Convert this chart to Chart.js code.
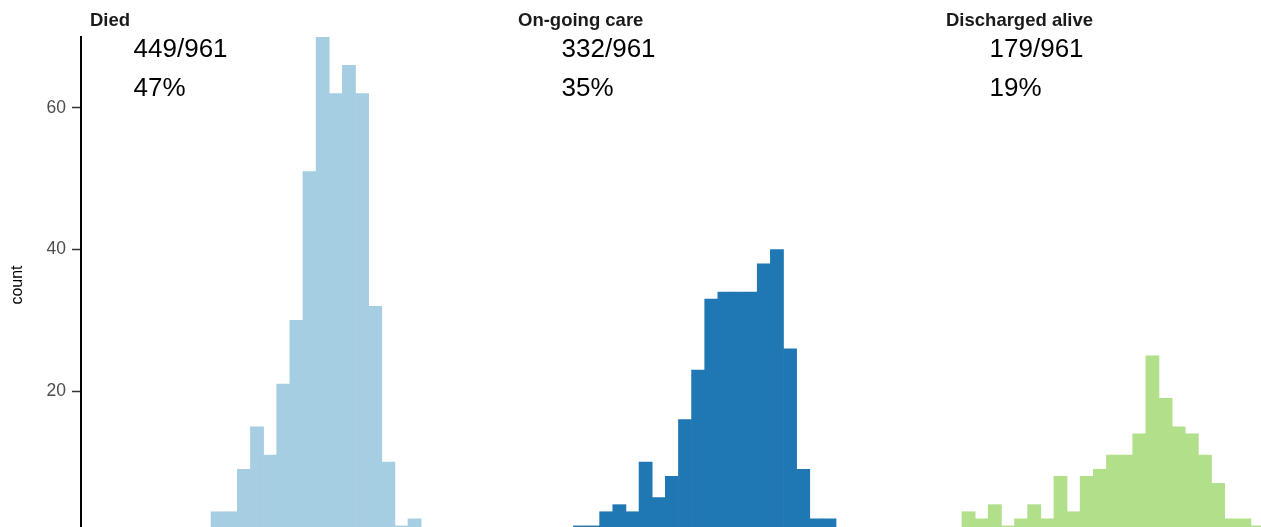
<!DOCTYPE html>
<html>
<head>
<meta charset="utf-8">
<script src="https://cdn.jsdelivr.net/npm/chart.js@4.4.1/dist/chart.umd.min.js"></script>
<style>
  html, body { margin: 0; padding: 0; width: 1261px; height: 527px; overflow: hidden; background: #fff; }
  .panel { position: absolute; top: 0; height: 533px; }
</style>
</head>
<body>
<div class="panel" style="left:0;width:501px"><canvas id="died"></canvas></div>
<div class="panel" style="left:509px;width:420px"><canvas id="ongoing"></canvas></div>
<div class="panel" style="left:937px;width:420px"><canvas id="discharged"></canvas></div>
<script>
// histogram counts, one bar per bin (bins share one grid across the facets)
const diedCounts = [3, 3, 9, 15, 11, 21, 30, 51, 70, 62, 66, 62, 32, 10, 1, 2];
const ongoingCounts = [1, 1, 3, 4, 3, 10, 5, 8, 16, 23, 33, 34, 34, 34, 38, 40, 26, 9, 2, 2];
const dischargedCounts = [3, 2, 4, 1, 2, 4, 2, 8, 3, 8, 9, 11, 11, 14, 25, 19, 15, 14, 11, 7, 2, 2, 1];
// index of the first bin of each facet on the shared grid
const firstBin = [8, 3, 0];

const outcomes = ['Died', 'On-going care', 'Discharged alive'];
const outcomeCounts = [449, 332, 179];
const totalCount = 961;
const pctLabels = ['47%', '35%', '19%'];
const yTicks = [20, 40, 60];

const colors = ['#a6cee3', '#1f78b4', '#b2df8a'];
const font = '"Liberation Sans", Arial, Helvetica, sans-serif';

function binData(counts, start) {
    return counts.map(function(c, i) {
        return { x: start + i + 0.5, y: c };
    });
}

// facet strip title + count annotation
const facetText = {
    id: 'facetText',
    afterDraw: function(chart, args, opts) {
        var ctx = chart.ctx;
        var x = chart.scales.x, y = chart.scales.y;
        ctx.save();
        ctx.textBaseline = 'middle';
        ctx.textAlign = 'left';
        ctx.fillStyle = '#1a1a1a';
        ctx.font = 'bold 18.5px ' + font;
        ctx.fillText(opts.title, chart.chartArea.left + 9, 21);
        ctx.fillStyle = '#000';
        ctx.font = '26px ' + font;
        ctx.fillText(opts.count + '/' + totalCount, x.getPixelForValue(2.1), y.getPixelForValue(68.2));
        ctx.fillText(opts.pct, x.getPixelForValue(2.1), y.getPixelForValue(62.7));
        ctx.restore();
    }
};

function makeChart(id, idx, counts, showAxis) {
    var ctx = document.getElementById(id).getContext('2d');
    return new Chart(ctx, {
        type: 'bar',
        data: {
            datasets: [{
                data: binData(counts, firstBin[idx]),
                backgroundColor: colors[idx],
                borderWidth: 0,
                barPercentage: 1,
                categoryPercentage: 1
            }]
        },
        options: {
            responsive: true,
            maintainAspectRatio: false,
            animation: false,
            layout: { padding: { top: 37, bottom: 0, left: 0, right: 0 } },
            plugins: {
                legend: { display: false },
                tooltip: { enabled: false },
                facetText: { title: outcomes[idx], count: outcomeCounts[idx], pct: pctLabels[idx] }
            },
            scales: {
                x: {
                    type: 'linear',
                    display: false,
                    offset: false,
                    grid: { offset: false },
                    min: -1.904,
                    max: 30.08,
                    ticks: { stepSize: 100, includeBounds: false }
                },
                y: {
                    display: showAxis,
                    min: 0,
                    max: 70,
                    afterFit: function(scale) {
                        scale.width = showAxis ? 81 : 0;
                        scale.paddingTop = 0;
                        scale.paddingBottom = 0;
                    },
                    afterBuildTicks: function(scale) {
                        scale.ticks = yTicks.map(function(v) { return { value: v }; });
                    },
                    grid: {
                        drawOnChartArea: false,
                        drawTicks: true,
                        tickLength: 9,
                        tickColor: '#333',
                        tickWidth: 1.5
                    },
                    border: { display: true, color: '#000', width: 2 },
                    ticks: {
                        padding: 6,
                        color: '#4d4d4d',
                        font: { family: font, size: 17.5 }
                    },
                    title: {
                        display: true,
                        text: 'count',
                        color: '#000',
                        padding: { top: 8, bottom: 0 },
                        font: { family: font, size: 16 }
                    }
                }
            }
        },
        plugins: [facetText]
    });
}

makeChart('died', 0, diedCounts, true);
makeChart('ongoing', 1, ongoingCounts, false);
makeChart('discharged', 2, dischargedCounts, false);
</script>
</body>
</html>
